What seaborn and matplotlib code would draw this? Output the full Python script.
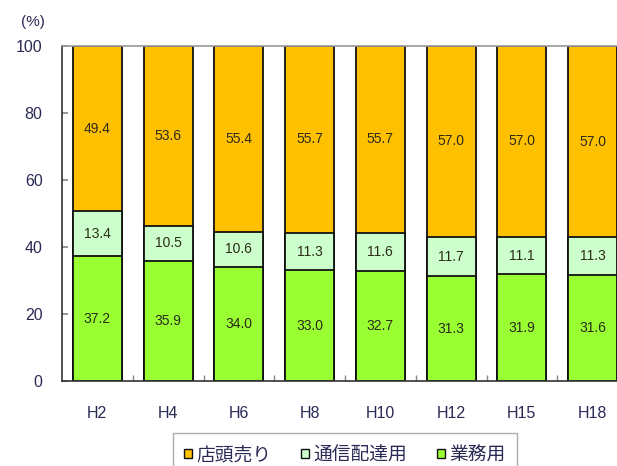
import matplotlib
matplotlib.use("Agg")
import matplotlib.pyplot as plt
import seaborn as sns
import numpy as np
import pandas as pd
from matplotlib.patches import Patch

categories = ["H2", "H4", "H6", "H8", "H10", "H12", "H15", "H18"]
storefront = [49.4, 53.6, 55.4, 55.7, 55.7, 57.0, 57.0, 57.0]   # 店頭売り
mailorder = [13.4, 10.5, 10.6, 11.3, 11.6, 11.7, 11.1, 11.3]    # 通信配達用
business = [37.2, 35.9, 34.0, 33.0, 32.7, 31.3, 31.9, 31.6]     # 業務用
series_names = ["店頭売り", "通信配達用", "業務用"]
yticks = [0, 20, 40, 60, 80, 100]

colors = {"店頭売り": "#FFC000", "通信配達用": "#CCFFCC", "業務用": "#99FF33"}

sns.set_theme(style="white")
plt.rcParams["font.family"] = ["Liberation Sans", "Noto Sans CJK JP", "DejaVu Sans"]

df = pd.DataFrame({"cat": categories, "s": storefront, "m": mailorder, "b": business})
df["top_b"] = df["b"]
df["top_m"] = df["b"] + df["m"]
df["top_s"] = df["top_m"] + df["s"]

fig = plt.figure(figsize=(6.17, 4.66), dpi=100)
ax = fig.add_axes([62/617, (466-381)/466, 566/617, 335/466])

W = 0.69
for col, name in [("top_s", "店頭売り"), ("top_m", "通信配達用"), ("top_b", "業務用")]:
    sns.barplot(data=df, x="cat", y=col, color=colors[name], saturation=1,
                width=W, edgecolor="#111111", linewidth=1.3, ax=ax)

txtc = "#2b2b1a"
for i in range(len(categories)):
    b = business[i]; m = mailorder[i]; s = storefront[i]
    ax.text(i, b/2, f"{b:.1f}", ha="center", va="center", fontsize=10, color=txtc)
    ax.text(i, b + m/2, f"{m:.1f}", ha="center", va="center", fontsize=10, color=txtc)
    ax.text(i, b + m + s/2, f"{s:.1f}", ha="center", va="center", fontsize=10, color=txtc)

ax.set_ylim(0, 100)
ax.set_xlim(-0.5, len(categories) - 0.5)
ax.set_yticks(yticks)
ax.set_yticklabels([str(v) for v in yticks], fontsize=11.5, color="#2a2a55")
ax.set_xticks(range(len(categories)))
ax.set_xticklabels(categories, fontsize=11.5, color="#2a2a55")
ax.set_xticks(np.arange(0.5, len(categories) - 0.5, 1), minor=True)
ax.tick_params(axis="x", which="major", length=0, pad=18)
ax.tick_params(axis="x", which="minor", length=4, direction="in", color="#888888", bottom=True)
ax.tick_params(axis="y", which="major", length=4, direction="in", color="#888888", left=True, pad=14)
ax.set_xlabel("")
ax.set_ylabel("")
for sp in ["left", "bottom", "top", "right"]:
    ax.spines[sp].set_visible(True)
    ax.spines[sp].set_color("#333333")
    ax.spines[sp].set_linewidth(1.2)
ax.spines["top"].set_color("#999999")

fig.text(33/617, 1 - 22/466, "(%)", ha="center", va="center", fontsize=11, color="#2a2a55")

handles = [Patch(facecolor=colors[n], edgecolor="#111111", linewidth=1.0) for n in series_names]
leg = fig.legend(handles, series_names, loc="upper center", ncol=3,
                 bbox_to_anchor=(345/617, 1 - 433/466), borderaxespad=0,
                 frameon=True, fancybox=False,
                 edgecolor="#999999", handlelength=0.4, handleheight=0.4,
                 handletextpad=0.25, columnspacing=1.6, borderpad=0.6,
                 prop={"family": ["Noto Sans CJK JP"], "size": 13.5})
for t in leg.get_texts():
    t.set_color("#2a2a55")
leg.get_frame().set_linewidth(1.0)

fig.savefig("out.png", dpi=100)
